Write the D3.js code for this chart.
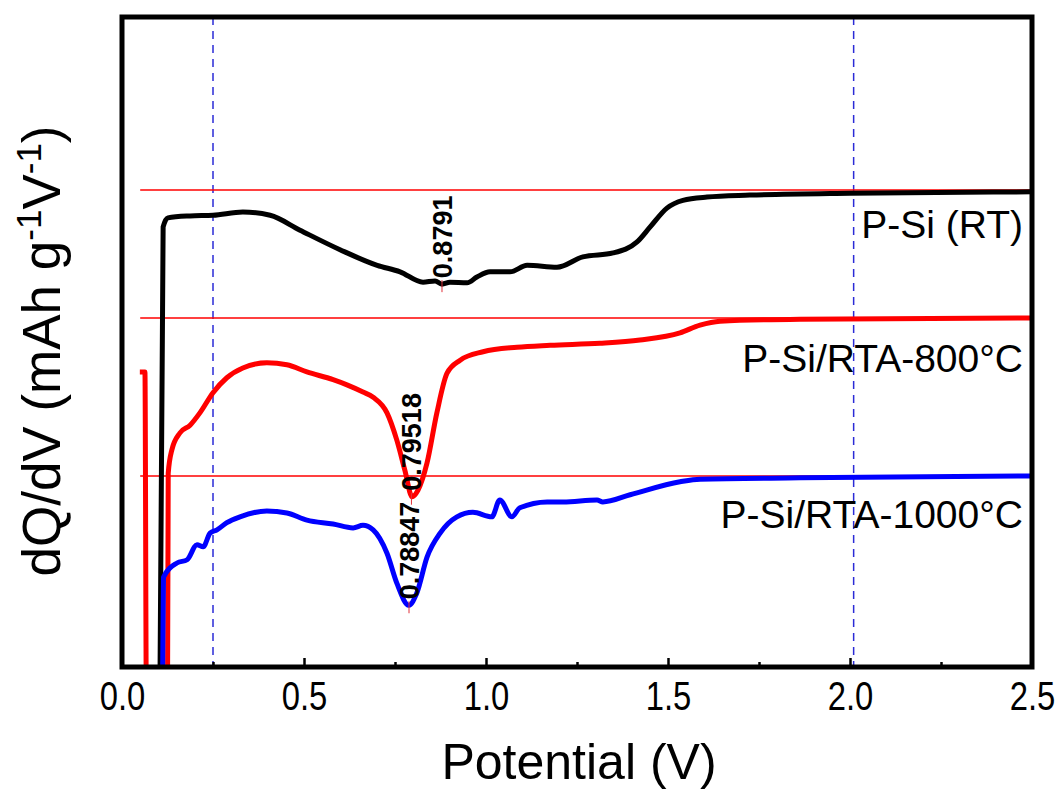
<!DOCTYPE html>
<html>
<head>
<meta charset="utf-8">
<script src="https://cdn.jsdelivr.net/npm/d3@7"></script>
<style>
  body { margin: 0; background: #fff; }
  text { font-family: "Liberation Sans", Arial, sans-serif; }
</style>
</head>
<body>
<div id="container"></div>
<script>
// P-Si (RT)
var vRT = [0.104, 0.113, 0.126, 0.187, 0.250, 0.332, 0.407, 0.489, 0.599, 0.701, 0.764, 0.827, 0.860, 0.879, 0.901, 0.948, 0.975, 1.011, 1.066, 1.113, 1.195, 1.266, 1.349, 1.415, 1.451, 1.497, 1.541, 1.607, 1.725, 2.000, 2.500];
var qRT = [-5, 67.7, 69.1, 69.4, 69.5, 70.0, 69.5, 67.2, 64.2, 61.8, 60.8, 59.2, 59.4, 58.9, 59.2, 59.1, 60.0, 60.8, 60.8, 61.8, 61.5, 63.1, 63.7, 65.4, 67.7, 70.6, 71.8, 72.3, 72.6, 72.9, 73.1];

// P-Si/RTA-800°C
var v800 = [0.049, 0.063, 0.067, 0.125, 0.127, 0.137, 0.159, 0.187, 0.214, 0.250, 0.288, 0.332, 0.398, 0.453, 0.508, 0.580, 0.618, 0.662, 0.690, 0.728, 0.755, 0.777, 0.797, 0.813, 0.838, 0.865, 0.893, 0.929, 0.992, 1.085, 1.176, 1.313, 1.423, 1.533, 1.588, 1.643, 1.863, 2.500];
var q800 = [45.4, 45.4, -5, -5, 29.8, 33.4, 36.0, 37.2, 39.1, 42.2, 44.5, 46.0, 46.8, 46.5, 45.4, 44.2, 43.4, 42.3, 41.5, 39.1, 34.9, 30.3, 26.2, 27.2, 31.4, 39.1, 45.2, 47.2, 48.5, 49.2, 49.5, 49.8, 50.3, 51.4, 52.6, 53.2, 53.5, 53.7];

// P-Si/RTA-1000°C
var v1000 = [0.111, 0.114, 0.151, 0.179, 0.206, 0.223, 0.242, 0.261, 0.288, 0.324, 0.398, 0.453, 0.508, 0.580, 0.635, 0.662, 0.690, 0.728, 0.755, 0.788, 0.810, 0.838, 0.874, 0.920, 0.964, 1.016, 1.038, 1.071, 1.093, 1.168, 1.212, 1.305, 1.321, 1.396, 1.533, 1.588, 1.863, 2.500];
var q1000 = [-5, 13.8, 16.0, 16.5, 18.8, 18.5, 20.6, 21.1, 22.2, 23.1, 24.0, 23.7, 22.6, 22.0, 21.4, 21.8, 21.1, 17.5, 12.9, 9.5, 11.4, 16.9, 20.6, 23.1, 23.8, 23.1, 25.7, 23.1, 24.5, 25.4, 25.4, 25.7, 25.4, 26.5, 28.5, 28.9, 29.1, 29.4];

var seriesNames = ["P-Si (RT)", "P-Si/RTA-800°C", "P-Si/RTA-1000°C"];
var seriesColors = ["#000000", "#ff0000", "#0000ff"];
var baseLevels = [73.4, 53.7, 29.4];          // red reference lines
var peakV = [0.8791, 0.79518, 0.78847];
var peakQ = [58.9, 26.2, 9.5];
var peakText = ["0.8791", "0.79518", "0.78847"];
var guideV = [0.25, 2.01];                    // blue dashed lines
var majorTicks = [0, 0.5, 1.0, 1.5, 2.0, 2.5];
var minorTicks = [0.25, 0.75, 1.25, 1.75, 2.25];

var margin = {top: 17, right: 32, bottom: 122, left: 122},
    width = 1064 - margin.left - margin.right,
    height = 789 - margin.top - margin.bottom;

var svg = d3.select("#container")
  .append("svg")
    .attr("width", 1064)
    .attr("height", 789)
  .append("g")
    .attr("transform", "translate(" + margin.left + "," + margin.top + ")");

var x = d3.scaleLinear()
    .domain([0, 2.5])
    .range([0, width]);

var y = d3.scaleLinear()
    .domain([0, 100])
    .range([height, 0]);

svg.append("clipPath")
    .attr("id", "plotclip")
  .append("rect")
    .attr("width", width)
    .attr("height", height);

// dashed guides
svg.selectAll(".guide")
    .data(guideV)
    .enter()
    .append("line")
    .attr("x1", function(d) { return x(d); })
    .attr("x2", function(d) { return x(d); })
    .attr("y1", 0)
    .attr("y2", height)
    .attr("stroke", "#2b2bd6")
    .attr("stroke-width", 1.5)
    .attr("stroke-dasharray", "8,6");

// baseline reference lines
svg.selectAll(".base")
    .data(baseLevels)
    .enter()
    .append("line")
    .attr("x1", x(0.05))
    .attr("x2", x(2.5))
    .attr("y1", function(d) { return y(d); })
    .attr("y2", function(d) { return y(d); })
    .attr("stroke", "#ff0000")
    .attr("stroke-width", 1.5);

var series = [
  {v: vRT, q: qRT},
  {v: v800, q: q800},
  {v: v1000, q: q1000}
];

var line = d3.line()
    .x(function(d) { return x(d[0]); })
    .y(function(d) { return y(d[1]); })
    .curve(d3.curveMonotoneX);

series.forEach(function(s, i) {
  var pts = s.v.map(function(v, j) { return [v, s.q[j]]; });
  svg.append("path")
      .datum(pts)
      .attr("clip-path", "url(#plotclip)")
      .attr("d", line)
      .attr("fill", "none")
      .attr("stroke", seriesColors[i])
      .attr("stroke-width", 5)
      .attr("stroke-linejoin", "round");
});

// peak markers and labels
peakV.forEach(function(p, i) {
  svg.append("line")
      .attr("x1", x(p)).attr("x2", x(p))
      .attr("y1", y(peakQ[i]) - 4).attr("y2", y(peakQ[i]) + 8)
      .attr("stroke", "#e0303a")
      .attr("stroke-width", 1);
  svg.append("text")
      .attr("transform", "translate(" + (x(p) + 10) + "," + (y(peakQ[i]) - 6) + ") rotate(-90)")
      .attr("font-size", 27)
      .attr("font-weight", "bold")
      .attr("fill", "#000")
      .text(peakText[i]);
});

// series names
var nameY = [238, 372, 528];
seriesNames.forEach(function(n, i) {
  svg.append("text")
      .attr("x", width - 9)
      .attr("y", nameY[i] - margin.top)
      .attr("text-anchor", "end")
      .attr("font-size", 39)
      .attr("fill", "#000")
      .text(n);
});

// axes
var xAxis = svg.append("g")
    .attr("transform", "translate(0," + height + ")")
    .call(d3.axisBottom(x).tickValues(majorTicks).tickSize(-9).tickPadding(14).tickFormat(d3.format(".1f")));
xAxis.select(".domain").remove();
xAxis.selectAll("line").attr("stroke-width", 2.5);
xAxis.selectAll("text")
    .attr("font-size", 41)
    .attr("fill", "#000")
    .attr("transform", "scale(0.8,1)");

var xMinor = svg.append("g")
    .attr("transform", "translate(0," + height + ")")
    .call(d3.axisBottom(x).tickValues(minorTicks).tickSize(-5).tickFormat(""));
xMinor.select(".domain").remove();
xMinor.selectAll("line").attr("stroke-width", 2.5);

// frame
svg.append("rect")
    .attr("width", width)
    .attr("height", height)
    .attr("fill", "none")
    .attr("stroke", "#000")
    .attr("stroke-width", 5);

// axis titles
svg.append("text")
    .attr("x", width / 2 + 2)
    .attr("y", height + 112)
    .attr("text-anchor", "middle")
    .attr("font-size", 50)
    .attr("fill", "#000")
    .text("Potential (V)");

var yt = svg.append("text")
    .attr("transform", "translate(" + (-62) + "," + 334 + ") rotate(-90)")
    .attr("text-anchor", "middle")
    .attr("font-size", 53)
    .attr("fill", "#000");
yt.append("tspan").text("dQ/dV (mAh g");
yt.append("tspan").attr("dy", -19).attr("font-size", 35).text("-1");
yt.append("tspan").attr("dy", 19).text("V");
yt.append("tspan").attr("dy", -19).attr("font-size", 35).text("-1");
yt.append("tspan").attr("dy", 19).text(")");
</script>
</body>
</html>
